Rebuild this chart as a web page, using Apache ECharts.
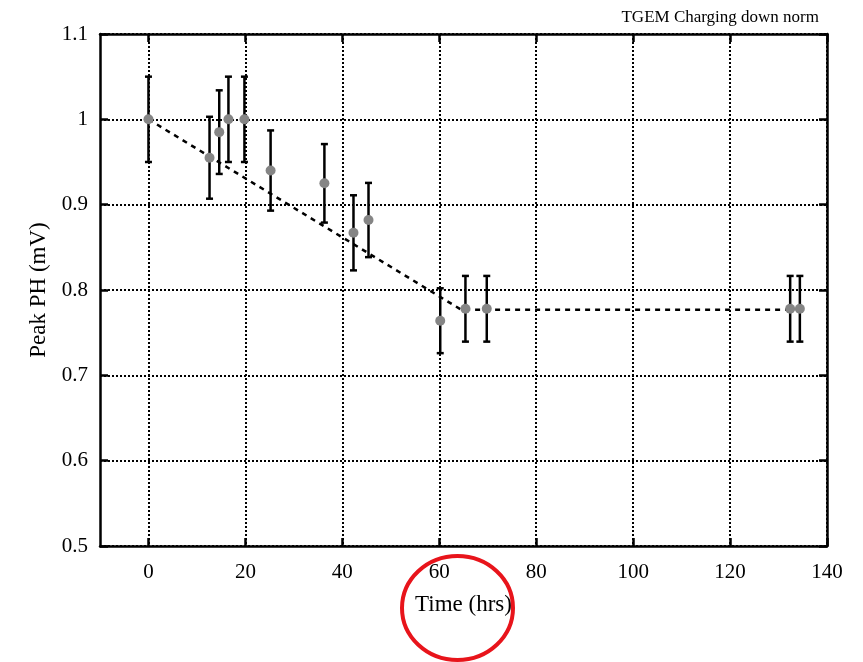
<!DOCTYPE html>
<html>
<head>
<meta charset="utf-8">
<script src="https://cdn.jsdelivr.net/npm/echarts@6/dist/echarts.min.js"></script>
<style>html,body{margin:0;padding:0;background:#fff;}#c{width:863px;height:662px;}</style>
</head>
<body>
<div id="c"></div>
<script>
// Data
var times  = [0, 12.6, 14.6, 16.5, 19.8, 25.2, 36.3, 42.3, 45.4, 60.2, 65.4, 69.8, 132.4, 134.4];
var peak   = [1.0, 0.955, 0.985, 1.0, 1.0, 0.94, 0.925, 0.867, 0.882, 0.764, 0.778, 0.778, 0.778, 0.778];
var errors = [0.05, 0.048, 0.049, 0.05, 0.05, 0.047, 0.046, 0.044, 0.0435, 0.038, 0.0385, 0.0385, 0.0385, 0.0385];
var trendX = [0, 64.5, 132.4];
var trendY = [1.0, 0.777, 0.777];
var xTicks = [0, 20, 40, 60, 80, 100, 120, 140];
var yTicks = [0.5, 0.6, 0.7, 0.8, 0.9, 1.0, 1.1];

var FONT = 'Liberation Serif';
var pts = times.map(function (t, i) { return [t, peak[i]]; });
var bars = times.map(function (t, i) { return [t, peak[i] - errors[i], peak[i] + errors[i]]; });
var trend = trendX.map(function (t, i) { return [t, trendY[i]]; });

var chart = echarts.init(document.getElementById('c'));
var tickStyle = { show: true, inside: true, length: 8, lineStyle: { color: '#000', width: 2.5 } };
var gridLine = { show: true, lineStyle: { color: '#000', width: 2, type: [2, 2] } };
var axisLineStyle = { show: true, onZero: false, lineStyle: { color: '#000', width: 2.5 } };

chart.setOption({
  animation: false,
  title: {
    text: 'TGEM Charging down norm',
    right: 39, top: 4,
    textStyle: { fontFamily: FONT, fontSize: 17, fontWeight: 'normal', color: '#000' }
  },
  grid: { left: 100, right: 36, top: 34, bottom: 116 },
  xAxis: [{
    type: 'value', min: -10, max: 140, position: 'bottom',
    name: 'Time (hrs)', nameLocation: 'middle', nameGap: 47,
    nameTextStyle: { fontFamily: FONT, fontSize: 23, color: '#000' },
    axisLine: axisLineStyle,
    axisTick: Object.assign({ customValues: xTicks }, tickStyle),
    axisLabel: { customValues: xTicks, fontFamily: FONT, fontSize: 21, color: '#000', margin: 16 },
    splitLine: gridLine
  }, {
    type: 'value', min: -10, max: 140, position: 'top',
    axisLine: axisLineStyle,
    axisTick: Object.assign({ customValues: xTicks }, tickStyle),
    axisLabel: { show: false },
    splitLine: { show: false }
  }],
  yAxis: [{
    type: 'value', min: 0.5, max: 1.1, interval: 0.1, position: 'left',
    name: 'Peak PH (mV)', nameLocation: 'middle', nameGap: 50,
    nameTextStyle: { fontFamily: FONT, fontSize: 23, color: '#000' },
    axisLine: axisLineStyle,
    axisTick: tickStyle,
    axisLabel: {
      customValues: yTicks, fontFamily: FONT, fontSize: 21, color: '#000', margin: 12,
      formatter: function (v) { return String(Math.round(v * 10) / 10); }
    },
    splitLine: gridLine
  }, {
    type: 'value', min: 0.5, max: 1.1, interval: 0.1, position: 'right',
    axisLine: axisLineStyle,
    axisTick: tickStyle,
    axisLabel: { show: false },
    splitLine: { show: false }
  }],
  series: [{
    type: 'line', data: trend, showSymbol: false, symbol: 'none',
    lineStyle: { color: '#000', width: 2.5, type: [5, 5] },
    z: 2
  }, {
    type: 'custom', data: bars, z: 3,
    renderItem: function (params, api) {
      var x = api.value(0);
      var lo = api.coord([x, api.value(1)]);
      var hi = api.coord([x, api.value(2)]);
      var w = 3.5;
      var st = { stroke: '#000', lineWidth: 2.5 };
      return {
        type: 'group',
        children: [
          { type: 'line', shape: { x1: lo[0], y1: lo[1], x2: hi[0], y2: hi[1] }, style: st },
          { type: 'line', shape: { x1: lo[0] - w, y1: lo[1], x2: lo[0] + w, y2: lo[1] }, style: st },
          { type: 'line', shape: { x1: hi[0] - w, y1: hi[1], x2: hi[0] + w, y2: hi[1] }, style: st }
        ]
      };
    }
  }, {
    type: 'scatter', data: pts, symbol: 'circle', symbolSize: 10, z: 4,
    itemStyle: { color: '#858585', opacity: 1 }
  }],
  graphic: [{
    type: 'ellipse',
    shape: { cx: 457.5, cy: 608, rx: 55.5, ry: 52 },
    style: { fill: 'none', stroke: '#e8141b', lineWidth: 4 },
    z: 100
  }]
});
</script>
</body>
</html>
